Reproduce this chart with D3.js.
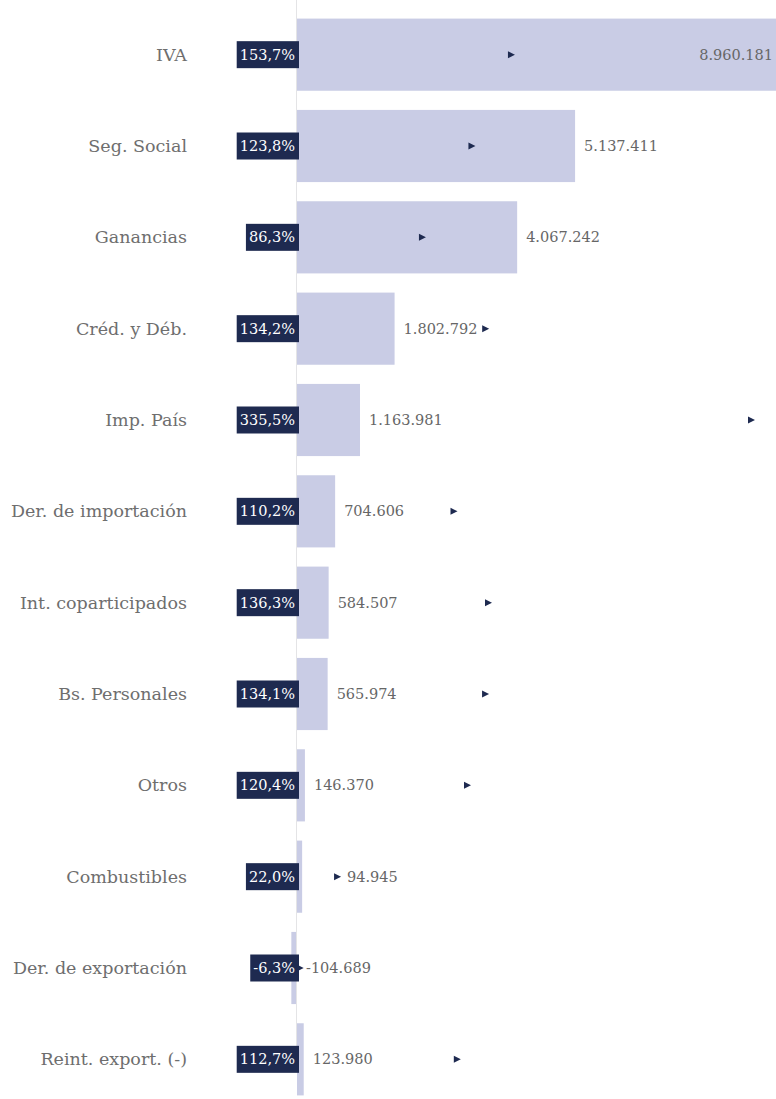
<!DOCTYPE html>
<html>
<head>
<meta charset="utf-8">
<script src="https://cdn.jsdelivr.net/npm/d3@7"></script>
<style>
  html, body { margin: 0; padding: 0; background: #fff; }
  svg { display: block; }
</style>
</head>
<body>
<svg id="chart" width="776" height="1099"></svg>
<script>
const categories = ["IVA", "Seg. Social", "Ganancias", "Créd. y Déb.", "Imp. País", "Der. de importación", "Int. coparticipados", "Bs. Personales", "Otros", "Combustibles", "Der. de exportación", "Reint. export. (-)"];
const values = [8960181, 5137411, 4067242, 1802792, 1163981, 704606, 584507, 565974, 146370, 94945, -104689, 123980];
const growth = [153.7, 123.8, 86.3, 134.2, 335.5, 110.2, 136.3, 134.1, 120.4, 22.0, -6.3, 112.7];

const W = 776, H = 1099;
const svg = d3.select("#chart");
const data = categories.map((c, i) => ({ cat: c, value: values[i], pct: growth[i] }));

const y = d3.scaleBand().domain(categories).range([9, 1105]).paddingInner(0.21).paddingOuter(0.105);
const x = d3.scaleLinear().domain([0, d3.max(values)]).range([297, 782]);
const px = d3.scaleLinear().domain([0, d3.max(growth)]).range([308, 751]);

const fmtNum = v => d3.format(",")(v).replace(/,/g, ".").replace("\u2212", "-");
const fmtPct = v => d3.format(".1f")(v).replace(".", ",").replace("\u2212", "-") + "%";

const serif = "'DejaVu Serif', serif";

// bars
svg.append("g").selectAll("rect").data(data).join("rect")
  .attr("x", d => Math.min(x(0), x(d.value)))
  .attr("y", d => y(d.cat))
  .attr("width", d => Math.abs(x(d.value) - x(0)))
  .attr("height", y.bandwidth())
  .attr("fill", "#c9cce5");

// zero axis line
svg.append("line")
  .attr("x1", x(0) - 0.5).attr("x2", x(0) - 0.5)
  .attr("y1", 0).attr("y2", 1068)
  .attr("stroke", "#e4e4e6").attr("stroke-width", 1);

// category labels
svg.append("g").selectAll("text").data(data).join("text")
  .attr("x", 187)
  .attr("y", d => y(d.cat) + y.bandwidth() / 2)
  .attr("text-anchor", "end")
  .attr("dominant-baseline", "central")
  .attr("font-family", serif)
  .attr("font-size", 17.5)
  .attr("fill", "#6e6e6e")
  .text(d => d.cat);

// badges
const badge = svg.append("g").selectAll("g").data(data).join("g")
  .attr("transform", d => `translate(${x(0) + 2},${y(d.cat) + y.bandwidth() / 2})`);
badge.append("text")
  .attr("x", -4)
  .attr("y", 0)
  .attr("text-anchor", "end")
  .attr("dominant-baseline", "central")
  .attr("font-family", serif)
  .attr("font-size", 14.5)
  .attr("fill", "#ffffff")
  .text(d => fmtPct(d.pct));
badge.each(function() {
  const g = d3.select(this);
  const w = g.select("text").node().getComputedTextLength();
  g.insert("rect", "text")
    .attr("x", -w - 7)
    .attr("y", -13.5)
    .attr("width", w + 7)
    .attr("height", 27)
    .attr("fill", "#1e2a50");
});

// growth markers
svg.append("g").selectAll("path").data(data).join("path")
  .attr("transform", d => `translate(${px(d.pct)},${y(d.cat) + y.bandwidth() / 2})`)
  .attr("d", "M-3,-3.5L4,0L-3,3.5Z")
  .attr("fill", "#1e2a50");

// value labels (kept inside the frame, shifted past the marker when they would collide)
const vl = svg.append("g").selectAll("text").data(data).join("text")
  .attr("y", d => y(d.cat) + y.bandwidth() / 2)
  .attr("dominant-baseline", "central")
  .attr("font-family", serif)
  .attr("font-size", 14.5)
  .attr("fill", "#666666")
  .text(d => fmtNum(d.value));
vl.each(function(d) {
  const t = d3.select(this);
  const w = this.getComputedTextLength();
  let lx = Math.min(Math.max(x(d.value), x(0)) + 9, W - w - 3);
  const m = px(d.pct);
  if (m > lx - 6 && m < lx + w + 6) lx = m + 10;
  t.attr("x", lx);
});
</script>
</body>
</html>
